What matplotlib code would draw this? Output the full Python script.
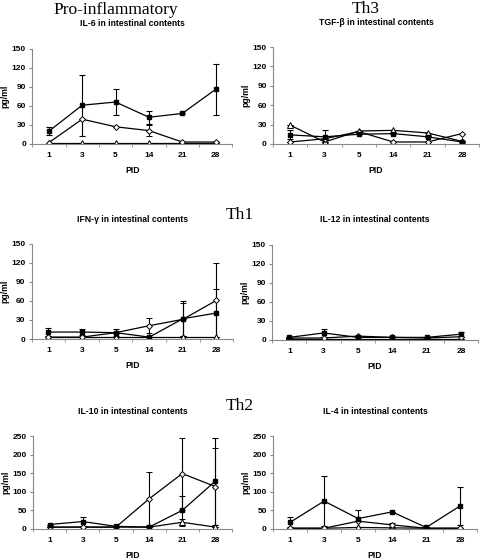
import matplotlib
matplotlib.use('Agg')
import matplotlib.pyplot as plt
import numpy as np

plt.rcParams['font.family'] = ['Liberation Sans', 'DejaVu Sans']

pid = ['1', '3', '5', '14', '21', '28']

# IL-6
il6_sq = [20, 61, 66, 42, 48, 86]
il6_sq_err = [6, 48, 20, 10, 0, 40]
il6_dia = [2, 39, 27, 21, 3, 3]
il6_dia_err = [0, 0, 0, 9, 0, 0]
il6_tri = [2, 2, 2, 2, 2, 2]
il6_tri_err = [0, 0, 0, 0, 0, 0]

# TGF-beta
tgf_sq = [14, 11, 15, 16, 11, 3]
tgf_sq_err = [7, 10, 0, 0, 0, 0]
tgf_dia = [3, 8, 19, 3, 3, 16]
tgf_dia_err = [0, 0, 0, 0, 0, 0]
tgf_tri = [29, 3, 20, 21, 17, 4]
tgf_tri_err = [0, 0, 0, 0, 0, 0]

# IFN-gamma
ifn_sq = [11, 11, 10, 3, 32, 41]
ifn_sq_err = [6, 5, 6, 0, 28, 38]
ifn_dia = [3, 3, 10, 21, 31, 61]
ifn_dia_err = [0, 0, 0, 12, 26, 58]
ifn_tri = [3, 3, 3, 3, 3, 3]
ifn_tri_err = [0, 0, 0, 0, 0, 0]

# IL-12
il12_sq = [4, 11, 4, 4, 4, 9]
il12_sq_err = [0, 6, 0, 0, 0, 4]
il12_dia = [3, 3, 6, 4, 3, 5]
il12_dia_err = [0, 0, 0, 0, 0, 0]
il12_tri = [2, 2, 2, 2, 2, 2]
il12_tri_err = [0, 0, 0, 0, 0, 0]

# IL-10
il10_sq = [12, 20, 7, 5, 50, 129]
il10_sq_err = [0, 13, 0, 0, 40, 117]
il10_dia = [5, 5, 5, 81, 149, 114]
il10_dia_err = [0, 0, 0, 71, 97, 103]
il10_tri = [5, 5, 5, 5, 18, 5]
il10_tri_err = [0, 0, 0, 0, 10, 0]

# IL-4
il4_sq = [18, 75, 28, 46, 4, 62]
il4_sq_err = [13, 67, 22, 0, 0, 52]
il4_dia = [2, 2, 21, 11, 2, 2]
il4_dia_err = [0, 0, 0, 6, 0, 0]
il4_tri = [2, 2, 4, 3, 2, 2]
il4_tri_err = [0, 0, 0, 0, 0, 0]

panels = [
    # title, series, ymax, ystep, axes rect
    ('IL-6 in intestinal contents', (il6_sq, il6_sq_err, il6_dia, il6_dia_err, il6_tri, il6_tri_err),
     150, 30, [0.067, 0.743, 0.417, 0.170]),
    ('TGF-β in intestinal contents', (tgf_sq, tgf_sq_err, tgf_dia, tgf_dia_err, tgf_tri, tgf_tri_err),
     150, 30, [0.569, 0.743, 0.429, 0.173]),
    ('IFN-γ in intestinal contents', (ifn_sq, ifn_sq_err, ifn_dia, ifn_dia_err, ifn_tri, ifn_tri_err),
     150, 30, [0.066, 0.3946, 0.420, 0.170]),
    ('IL-12 in intestinal contents', (il12_sq, il12_sq_err, il12_dia, il12_dia_err, il12_tri, il12_tri_err),
     150, 30, [0.567, 0.393, 0.429, 0.170]),
    ('IL-10 in intestinal contents', (il10_sq, il10_sq_err, il10_dia, il10_dia_err, il10_tri, il10_tri_err),
     250, 50, [0.0687, 0.0554, 0.4147, 0.166]),
    ('IL-4 in intestinal contents', (il4_sq, il4_sq_err, il4_dia, il4_dia_err, il4_tri, il4_tri_err),
     250, 50, [0.569, 0.0554, 0.425, 0.166]),
]

fig = plt.figure(figsize=(4.8, 5.6), dpi=100)
x = np.arange(len(pid))
grey = '#888888'

for title, (sq, sqe, dia, diae, tri, trie), ymax, ystep, rect in panels:
    ax = fig.add_axes(rect)
    kw = dict(color='black', lw=0.9, elinewidth=0.8, capsize=2.2, capthick=0.8)
    ax.errorbar(x, tri, yerr=trie, marker='^', ms=4, mfc='white', mec='black', mew=0.7, **kw)
    ax.errorbar(x, dia, yerr=diae, marker='D', ms=3, mfc='white', mec='black', mew=0.7, **kw)
    ax.errorbar(x, sq, yerr=sqe, marker='s', ms=3.5, mfc='black', mec='black', **kw)
    ax.set_xlim(-0.5, len(pid) - 0.5)
    ax.set_ylim(0, ymax)
    ax.set_yticks(np.arange(0, ymax + 1, ystep))
    ax.set_xticks(x)
    ax.set_xticklabels(pid)
    ax.set_xticks(np.arange(-0.5, len(pid)), minor=True)
    ax.tick_params(axis='x', which='major', length=0, pad=6)
    ax.tick_params(axis='x', which='minor', length=2.5, color=grey)
    ax.tick_params(axis='y', length=2.5, color=grey, pad=2)
    for lab in ax.get_xticklabels() + ax.get_yticklabels():
        lab.set_fontsize(6)
        lab.set_fontweight('bold')
    for s in ['top', 'right']:
        ax.spines[s].set_visible(False)
    for s in ['left', 'bottom']:
        ax.spines[s].set_color(grey)
        ax.spines[s].set_linewidth(0.8)
    ax.set_ylabel('pg/ml', fontsize=6.2, fontweight='bold', labelpad=1.5)
    ax.set_xlabel('PID', fontsize=6.2, fontweight='bold', labelpad=5)
    ax.set_title(title, fontsize=6.2, fontweight='bold', pad=16)

serif = ['Liberation Serif', 'DejaVu Serif']
fig.text(116 / 480, 1 - 10 / 560, 'Pro-inflammatory', family=serif, fontsize=12.5, ha='center', va='center')
fig.text(366 / 480, 1 - 9 / 560, 'Th3', family=serif, fontsize=12.5, ha='center', va='center')
fig.text(240 / 480, 1 - 215 / 560, 'Th1', family=serif, fontsize=12.5, ha='center', va='center')
fig.text(240 / 480, 1 - 406 / 560, 'Th2', family=serif, fontsize=12.5, ha='center', va='center')

plt.savefig('out.png', dpi=100)
